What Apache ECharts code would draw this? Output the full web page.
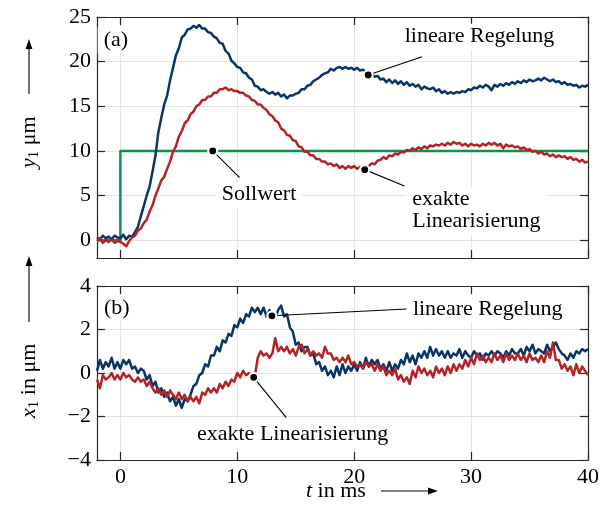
<!DOCTYPE html>
<html>
<head>
<meta charset="utf-8">
<script src="https://cdn.jsdelivr.net/npm/echarts@6/dist/echarts.min.js"></script>
<style>
  html, body { margin: 0; padding: 0; background: #fff; }
  #chart { width: 610px; height: 506px; }
</style>
</head>
<body>
<div id="chart"></div>
<script>
// Sampling of the measured signals: t = -2 ms ... 40 ms, every 0.25 ms
const T_START = -2;
const T_STEP = 0.25;

// (a) output y1 in µm – linear control
const y1Linear = [
  0.3, 0.1, 0.5, 0.2, 0.4, 0.1, 0.5, 0.3,
  0.2, 0.6, 0.1, 0.5, 0.4, 0.9, 1.5, 2.7,
  3.8, 5.0, 6.0, 7.7, 9.5, 12.1, 13.7, 15.2,
  16.2, 17.9, 19.3, 20.7, 21.5, 22.7, 23.0, 23.6,
  23.7, 24.0, 23.8, 24.1, 23.7, 23.7, 23.3, 23.2,
  22.8, 22.6, 22.1, 22.0, 21.2, 20.9, 20.1, 19.8,
  19.4, 19.3, 18.8, 18.7, 18.2, 18.0, 17.3, 17.2,
  16.8, 16.9, 16.6, 16.4, 16.6, 16.3, 16.5, 16.1,
  16.3, 15.9, 16.2, 16.2, 16.4, 16.5, 16.9, 16.9,
  17.3, 17.4, 17.8, 18.0, 18.2, 18.5, 18.7, 18.8,
  19.2, 19.0, 19.3, 19.4, 19.2, 19.4, 19.2, 19.3,
  19.1, 19.3, 19.0, 19.1, 18.8, 18.5, 18.7, 18.3,
  18.4, 18.0, 18.1, 17.7, 18.0, 17.6, 17.9, 17.5,
  17.8, 17.4, 17.7, 17.3, 17.5, 17.2, 17.4, 16.9,
  17.2, 17.0, 16.9, 17.1, 16.7, 16.9, 16.5, 16.7,
  16.4, 16.6, 16.4, 16.6, 16.5, 16.7, 16.6, 16.9,
  16.8, 17.1, 17.0, 17.3, 17.1, 17.4, 17.2, 16.8,
  17.4, 17.2, 17.5, 17.3, 17.6, 17.4, 17.7, 17.5,
  17.8, 17.6, 17.9, 17.7, 18.0, 17.8, 17.9, 18.1,
  17.9, 18.2, 18.0, 17.8, 18.0, 17.7, 17.8, 17.5,
  17.7, 17.4, 17.5, 17.3, 17.4, 17.1, 17.3, 17.2,
  17.4
];

// (a) output y1 in µm – exact linearisation
const y1Exact = [
  -0.1, 0.2, -0.3, 0.0, -0.2, 0.1, -0.3, -0.1,
  -0.2, -0.4, -0.7, -0.1, 0.3, 0.5, 1.1, 1.3,
  1.9, 2.3, 3.2, 3.9, 5.0, 5.8, 6.7, 7.1,
  8.0, 8.8, 9.9, 10.5, 11.6, 12.2, 13.1, 13.4,
  14.1, 14.4, 15.0, 15.2, 15.7, 15.7, 16.1, 16.1,
  16.5, 16.5, 16.9, 16.9, 17.1, 16.8, 16.9, 16.7,
  16.7, 16.5, 16.5, 16.2, 16.1, 15.7, 15.6, 15.2,
  15.2, 14.8, 14.6, 14.1, 13.9, 13.4, 13.2, 12.5,
  12.3, 11.8, 11.7, 11.2, 11.1, 10.5, 10.4, 9.9,
  9.9, 9.5, 9.5, 9.1, 9.1, 8.8, 8.8, 8.5,
  8.6, 8.3, 8.5, 8.1, 8.3, 8.0, 8.3, 8.1,
  8.3, 8.0, 8.2, 8.0, 7.9, 8.3, 8.6, 8.5,
  8.9, 9.0, 9.3, 9.1, 9.5, 9.4, 9.7, 9.6,
  9.9, 9.8, 10.1, 10.0, 10.3, 10.1, 10.4, 10.2,
  10.5, 10.3, 10.6, 10.5, 10.7, 10.6, 10.8, 10.6,
  10.9, 10.7, 11.0, 10.8, 10.9, 10.6, 10.8, 10.5,
  10.8, 10.6, 10.7, 10.5, 10.8, 10.6, 10.9, 10.7,
  10.9, 10.6, 10.8, 10.3, 10.7, 10.5, 10.6, 10.4,
  10.5, 10.2, 10.4, 10.1, 10.2, 9.9, 10.0, 9.7,
  9.9, 9.6, 9.7, 9.4, 9.6, 9.3, 9.5, 9.3,
  9.4, 9.1, 9.3, 9.0, 9.1, 8.8, 9.0, 8.7,
  8.8
];

// (b) state x1 in µm – linear control
const x1Linear = [
  0.1, 0.6, 0.2, 0.5, 0.3, 0.7, 0.2, 0.5,
  0.2, 0.6, 0.4, 0.6, 0.2, 0.3, 0.0, 0.2,
  0.1, -0.3, -0.1, -0.6, -0.4, -0.9, -0.7, -1.1,
  -0.9, -1.3, -1.1, -1.5, -1.2, -1.6, -1.2, -1.3,
  -1.0, -0.6, -0.5, -0.1, 0.0, 0.4, 0.3, 0.8,
  0.8, 1.2, 1.0, 1.5, 1.4, 1.8, 1.7, 2.2,
  2.1, 2.5, 2.3, 2.7, 2.6, 3.0, 2.8, 3.0,
  2.7, 3.0, 2.6, 2.9, 2.6, 2.5, 2.9, 3.1,
  2.6, 2.7, 2.1, 1.9, 1.3, 1.4, 1.0, 1.2,
  1.2, 0.8, 0.9, 0.4, 0.5, 0.1, 0.3, -0.1,
  0.1, -0.2, 0.3, -0.1, 0.4, 0.0, 0.3, 0.1,
  0.4, 0.1, 0.5, 0.2, 0.7, 0.3, 0.6, 0.4,
  0.6, 0.2, 0.4, 0.1, 0.5, 0.1, 0.4, 0.2,
  0.6, 0.4, 0.9, 0.5, 0.8, 0.4, 0.9, 0.7,
  1.0, 0.7, 1.2, 0.8, 1.1, 0.8, 1.0, 0.7,
  1.0, 0.7, 0.9, 0.8, 1.1, 0.7, 1.0, 0.8,
  0.7, 1.0, 0.8, 0.9, 0.6, 0.9, 0.8, 1.0,
  0.8, 1.0, 0.9, 0.7, 1.0, 0.8, 1.1, 0.9,
  0.9, 1.1, 0.8, 1.2, 1.0, 1.3, 0.9, 1.1,
  1.0, 0.9, 1.3, 1.0, 1.2, 1.4, 1.1, 0.9,
  0.8, 0.6, 0.9, 0.7, 1.0, 0.9, 1.1, 1.0,
  1.1
];

// (b) state x1 in µm – exact linearisation
const x1Exact = [
  -0.3, -0.7, -0.1, -0.3, -0.2, 0.0, -0.3, -0.1,
  -0.3, 0.0, -0.2, -0.1, -0.3, -0.4, -0.2, -0.4,
  -0.3, -0.6, -0.4, -0.7, -0.9, -0.7, -1.0, -0.8,
  -1.1, -0.8, -1.0, -1.2, -0.9, -1.2, -1.0, -1.3,
  -1.1, -1.3, -1.1, -1.4, -0.9, -1.0, -0.7, -0.9,
  -0.7, -0.9, -0.5, -0.7, -0.4, -0.6, -0.3, -0.4,
  0.0, -0.2, 0.1, -0.1, 0.0, -0.3, -0.15, 0.7,
  1.0, 0.8, 0.9, 0.7, 0.9, 1.6, 1.0, 1.2,
  1.0, 1.2, 0.9, 1.1, 0.8, 1.2, 1.3, 0.9,
  1.1, 0.8, 1.0, 0.8, 0.9, 0.7, 1.2, 0.9,
  0.9, 0.6, 0.7, 0.5, 0.7, 0.5, 0.8, 0.4,
  0.5, 0.3, 0.4, 0.2, 0.5, 0.3, 0.4, 0.1,
  0.4, 0.1, 0.3, -0.1, 0.1, -0.1, 0.2, -0.3,
  -0.1, -0.4, -0.2, -0.5, 0.1, -0.2, 0.3, 0.0,
  0.2, -0.1, 0.1, -0.2, 0.3, 0.0, 0.2, -0.1,
  0.3, 0.0, 0.4, 0.1, 0.4, 0.2, 0.6, 0.3,
  0.7, 0.4, 0.9, 0.6, 0.8, 0.5, 0.7, 0.5,
  0.9, 0.6, 0.8, 0.5, 0.9, 0.6, 0.8, 0.6,
  0.9, 0.6, 0.8, 0.5, 0.9, 0.6, 0.7, 0.5,
  0.8, 0.5, 1.0, 0.7, 1.4, 0.6, 0.6, 0.2,
  0.4, 0.1, 0.3, -0.1, 0.4, 0.0, 0.3, 0.1,
  -0.1
];

// Set point step (Sollwert)
const setpointT = [-2, 0, 0, 40];
const setpointY = [0, 0, 10, 10];

// Tick values
const tTicks = [0, 10, 20, 30, 40];
const y1Ticks = [0, 5, 10, 15, 20, 25];
const x1Ticks = [-4, -2, 0, 2, 4];

// Annotations in data coordinates: marker dot, end of leader line, text anchor (left edge, middle)
const notesA = [
  { text: 'Sollwert',               dot: [7.9, 10],   end: [10.2, 7.0],  at: [8.65, 5.1] },
  { text: 'lineare Regelung',       dot: [21.2, 18.5], end: [25.8, 20.55], at: [24.3, 22.8] },
  { text: 'exakte\nLinearisierung', dot: [20.9, 7.9], end: [24.3, 6.07], at: [24.94, 3.32] }
];
const notesB = [
  { text: 'lineare Regelung',       dot: [12.96, 2.63], end: [24.5, 2.94], at: [25.0, 2.95] },
  { text: 'exakte Linearisierung',  dot: [11.4, -0.2], end: [14.19, -2.05], at: [6.53, -2.8] }
];
const panelTags = [
  { text: '(a)', at: [-1.45, 22.4] },
  { text: '(b)', at: [-1.42, 3.0] }
];

// ---------------------------------------------------------------------------
const FONT = '"Liberation Serif", "DejaVu Serif", serif';
const INK = '#000000';
const FRAME = '#262626';
const GRID_COLOR = '#e3e3e3';
const BLUE = '#0b3466';
const RED = '#b42326';
const GREEN = '#119151';
const FS = 22;

const tSamples = y1Linear.map((_, i) => T_START + i * T_STEP);
const toPairs = (xs, ys) => ys.map((v, i) => [xs[i], v]);
const minusSign = v => String(v).replace('-', '\u2212');

function xAxisCfg(gridIndex, position, showLabels) {
  return {
    type: 'value', gridIndex, position, min: -2, max: 40,
    axisLine: { show: true, onZero: false, lineStyle: { color: FRAME, width: 1.2 } },
    axisTick: { show: true, inside: true, length: 8, customValues: tTicks, lineStyle: { color: FRAME, width: 1.2 } },
    axisLabel: {
      show: showLabels, customValues: tTicks, margin: 6,
      color: INK, fontSize: FS, fontFamily: FONT, formatter: minusSign
    },
    splitLine: { show: position === 'bottom', lineStyle: { color: GRID_COLOR, width: 1 } }
  };
}

function yAxisCfg(gridIndex, position, min, max, ticks, showLabels) {
  return {
    type: 'value', gridIndex, position, min, max,
    axisLine: { show: true, onZero: false, lineStyle: { color: FRAME, width: 1.2 } },
    axisTick: { show: true, inside: true, length: 8, customValues: ticks, lineStyle: { color: FRAME, width: 1.2 } },
    axisLabel: {
      show: showLabels, customValues: ticks, margin: 6,
      color: INK, fontSize: FS, fontFamily: FONT, formatter: minusSign
    },
    splitLine: { show: position === 'left', lineStyle: { color: GRID_COLOR, width: 1 } }
  };
}

function signal(name, data, color, xi, yi, z) {
  return {
    name, type: 'line', data, xAxisIndex: xi, yAxisIndex: yi,
    showSymbol: false, symbol: 'none', clip: true, z,
    lineStyle: { color, width: 2.5, join: 'round' },
    silent: true
  };
}

const textLabel = {
  show: true, position: 'right', distance: 0, offset: [-6, 0], opacity: 1,
  color: INK, fontSize: FS, fontFamily: FONT, lineHeight: 22,
  textBorderWidth: 0, textShadowBlur: 0,
  backgroundColor: '#ffffff', padding: [2, 6, 2, 6], align: 'left', verticalAlign: 'middle'
};

function annotationSeries(notes, tag, xi, yi) {
  const out = [];
  notes.forEach(n => {
    out.push({
      type: 'line', xAxisIndex: xi, yAxisIndex: yi, data: [n.dot, n.end],
      symbol: 'none', silent: true, z: 8, clip: false,
      lineStyle: { color: INK, width: 1.1 }
    });
  });
  out.push({
    type: 'scatter', xAxisIndex: xi, yAxisIndex: yi, z: 9, silent: true, clip: false,
    data: notes.map(n => n.dot), symbolSize: 9,
    itemStyle: { color: '#000', borderColor: '#fff', borderWidth: 2.2, opacity: 1 }
  });
  const texts = notes.map(n => ({ value: n.at, label: { formatter: n.text } }));
  texts.push({ value: tag.at, label: { formatter: tag.text } });
  out.push({
    type: 'scatter', xAxisIndex: xi, yAxisIndex: yi, z: 10, silent: true, clip: false,
    data: texts, symbolSize: 0.5, itemStyle: { color: '#ffffff', opacity: 1 },
    label: textLabel
  });
  return out;
}

const chart = echarts.init(document.getElementById('chart'), null, { renderer: 'canvas' });

const option = {
  animation: false,
  backgroundColor: '#ffffff',
  grid: [
    { left: 97, top: 17, width: 491, height: 241 },
    { left: 97, top: 286, width: 491, height: 174 }
  ],
  xAxis: [
    xAxisCfg(0, 'bottom', false),
    xAxisCfg(0, 'top', false),
    xAxisCfg(1, 'bottom', true),
    xAxisCfg(1, 'top', false)
  ],
  yAxis: [
    yAxisCfg(0, 'left', -2, 25, y1Ticks, true),
    yAxisCfg(0, 'right', -2, 25, y1Ticks, false),
    yAxisCfg(1, 'left', -4, 4, x1Ticks, true),
    yAxisCfg(1, 'right', -4, 4, x1Ticks, false)
  ],
  series: [
    signal('Sollwert', toPairs(setpointT, setpointY), GREEN, 0, 0, 3),
    signal('lineare Regelung (a)', toPairs(tSamples, y1Linear), BLUE, 0, 0, 4),
    signal('exakte Linearisierung (a)', toPairs(tSamples, y1Exact), RED, 0, 0, 5),
    signal('lineare Regelung (b)', toPairs(tSamples, x1Linear), BLUE, 2, 2, 4),
    signal('exakte Linearisierung (b)', toPairs(tSamples, x1Exact), RED, 2, 2, 5),
    ...annotationSeries(notesA, panelTags[0], 0, 0),
    ...annotationSeries(notesB, panelTags[1], 2, 2)
  ],
  graphic: [
    // vertical title of panel (a)
    {
      type: 'text', x: 29, y: 168, rotation: Math.PI / 2,
      style: {
        text: '{i|y}{s|1} μm', fill: INK, fontSize: FS, fontFamily: FONT,
        align: 'left', verticalAlign: 'middle',
        rich: {
          i: { fontStyle: 'italic', fontSize: FS, fontFamily: FONT, fill: INK, lineHeight: 26 },
          s: { fontSize: 15, fontFamily: FONT, fill: INK, verticalAlign: 'bottom', lineHeight: 15 }
        }
      }
    },
    { type: 'line', shape: { x1: 29, y1: 94, x2: 29, y2: 47 }, style: { stroke: INK, lineWidth: 1.1 } },
    { type: 'polygon', shape: { points: [[29, 39], [25.6, 49], [32.4, 49]] }, style: { fill: INK } },

    // vertical title of panel (b)
    {
      type: 'text', x: 29, y: 418, rotation: Math.PI / 2,
      style: {
        text: '{i|x}{s|1} in μm', fill: INK, fontSize: FS, fontFamily: FONT,
        align: 'left', verticalAlign: 'middle',
        rich: {
          i: { fontStyle: 'italic', fontSize: FS, fontFamily: FONT, fill: INK, lineHeight: 26 },
          s: { fontSize: 15, fontFamily: FONT, fill: INK, verticalAlign: 'bottom', lineHeight: 15 }
        }
      }
    },
    { type: 'line', shape: { x1: 29, y1: 322, x2: 29, y2: 264 }, style: { stroke: INK, lineWidth: 1.1 } },
    { type: 'polygon', shape: { points: [[29, 256], [25.6, 266], [32.4, 266]] }, style: { fill: INK } },

    // time axis title
    {
      type: 'text', x: 306, y: 491,
      style: {
        text: '{i|t} in ms', fill: INK, fontSize: FS, fontFamily: FONT,
        align: 'left', verticalAlign: 'middle',
        rich: { i: { fontStyle: 'italic', fontSize: FS, fontFamily: FONT, fill: INK } }
      }
    },
    { type: 'line', shape: { x1: 381, y1: 491, x2: 430, y2: 491 }, style: { stroke: INK, lineWidth: 1.1 } },
    { type: 'polygon', shape: { points: [[438, 491], [428, 487.6], [428, 494.4]] }, style: { fill: INK } }
  ]
};

chart.setOption(option);
</script>
</body>
</html>
